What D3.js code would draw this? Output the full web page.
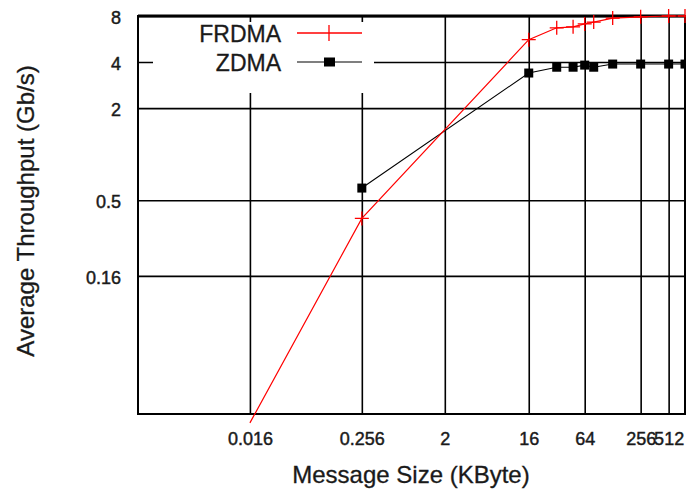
<!DOCTYPE html>
<html>
<head>
<meta charset="utf-8">
<script src="https://cdn.jsdelivr.net/npm/d3@7"></script>
<style>
  body { margin: 0; background: #fff; }
  svg { display: block; font-family: "Liberation Sans", Arial, Helvetica, sans-serif; }
  .tick text { fill: #1a1a1a; stroke: #1a1a1a; stroke-width: 0.45; }
  .title { stroke: #1a1a1a; stroke-width: 0.3; }
</style>
</head>
<body>
<div id="chart"></div>
<script>
// message sizes (KByte)
const sizes = [0.016, 0.256, 16, 32, 48, 64, 80, 128, 256, 512, 768];
// throughput (Gb/s)
const frdma = [0.0175, 0.38, 5.6, 6.7, 6.8, 7.1, 7.3, 7.75, 7.9, 8.0, 8.0];
const zdmaSizes = [0.256, 16, 32, 48, 64, 80, 128, 256, 512, 768];
const zdma = [0.6, 3.39, 3.7, 3.7, 3.82, 3.7, 3.88, 3.88, 3.88, 3.88];

const xTicks = [0.016, 0.256, 2, 16, 64, 256, 512];
const xTickLabels = ["0.016", "0.256", "2", "16", "64", "256", "512"];
const yTicks = [8, 4, 2, 0.5, 0.16];
const yTickLabels = ["8", "4", "2", "0.5", "0.16"];

const svgWidth = 686;
const svgHeight = 491;
const margin = { top: 16, right: 1, bottom: 77, left: 138 };
const width = svgWidth - margin.left - margin.right;
const height = svgHeight - margin.top - margin.bottom;

const svg = d3.select("#chart")
    .append("svg")
    .attr("width", svgWidth)
    .attr("height", svgHeight);

const chart = svg.append("g")
    .attr("transform", `translate(${margin.left},${margin.top})`);

const x = d3.scaleLog()
    .domain([0.001, 768])
    .range([0, width]);

const y = d3.scaleLog()
    .domain([0.02, 8])
    .range([height, 0]);

// grid lines
chart.append("g")
    .attr("class", "grid")
    .attr("transform", `translate(0, ${height})`)
    .call(d3.axisBottom(x).tickValues(xTicks).tickSize(-height).tickFormat(""))
    .call(g => g.select(".domain").remove())
    .call(g => g.selectAll("line").attr("stroke", "#000").attr("stroke-width", 1.6));

chart.append("g")
    .attr("class", "grid")
    .call(d3.axisLeft(y).tickValues(yTicks).tickSize(-width).tickFormat(""))
    .call(g => g.select(".domain").remove())
    .call(g => g.selectAll("line").attr("stroke", "#000").attr("stroke-width", 1.6));

// key background covers the grid
chart.append("rect")
    .attr("x", 15)
    .attr("y", 6)
    .attr("width", 221)
    .attr("height", 71)
    .attr("fill", "#fff");

// tick labels
chart.append("g")
    .attr("transform", `translate(0, ${height})`)
    .call(d3.axisBottom(x).tickValues(xTicks).tickSize(0).tickPadding(18)
        .tickFormat((d, i) => xTickLabels[i]))
    .call(g => g.select(".domain").remove())
    .call(g => g.selectAll("text").attr("font-size", 18).attr("font-family", null));

chart.append("g")
    .call(d3.axisLeft(y).tickValues(yTicks).tickSize(0).tickPadding(17)
        .tickFormat((d, i) => yTickLabels[i]))
    .call(g => g.select(".domain").remove())
    .call(g => g.selectAll("text").attr("font-size", 18).attr("font-family", null).attr("dy", "0.4em"));

// border
chart.append("rect")
    .attr("width", width)
    .attr("height", height)
    .attr("fill", "none")
    .attr("stroke", "#000")
    .attr("stroke-width", 2);
chart.append("line")
    .attr("x1", 0).attr("x2", width)
    .attr("y1", 0).attr("y2", 0)
    .attr("stroke", "#000")
    .attr("stroke-width", 3);

// series
const frdmaData = sizes.map((s, i) => ({ size: s, value: frdma[i] }));
const zdmaData = zdmaSizes.map((s, i) => ({ size: s, value: zdma[i] }));

const line = d3.line()
    .x(d => x(d.size))
    .y(d => y(d.value));

chart.append("path")
    .datum(zdmaData)
    .attr("fill", "none")
    .attr("stroke", "#000")
    .attr("stroke-width", 1.1)
    .attr("d", line);

chart.append("path")
    .datum(frdmaData)
    .attr("fill", "none")
    .attr("stroke", "#ff0000")
    .attr("stroke-width", 1.2)
    .attr("d", line);

chart.append("g").selectAll("rect")
    .data(zdmaData)
    .join("rect")
    .attr("x", d => x(d.size) - 4.5)
    .attr("y", d => y(d.value) - 4.5)
    .attr("width", 9)
    .attr("height", 9)
    .attr("fill", "#000");

const plus = "M-7,0H7M0,-7V7";
chart.append("g").selectAll("path")
    .data(frdmaData.filter(d => d.value >= 0.02))
    .join("path")
    .attr("transform", d => `translate(${x(d.size)},${y(d.value)})`)
    .attr("d", plus)
    .attr("stroke", "#ff0000")
    .attr("stroke-width", 1.3);

// key
const key = chart.append("g");
key.append("text")
    .attr("class", "title")
    .attr("x", 143).attr("y", 26)
    .attr("text-anchor", "end")
    .attr("font-size", 23)
    .attr("fill", "#1a1a1a")
    .text("FRDMA");
key.append("text")
    .attr("class", "title")
    .attr("x", 143).attr("y", 55)
    .attr("text-anchor", "end")
    .attr("font-size", 23)
    .attr("fill", "#1a1a1a")
    .text("ZDMA");
key.append("line")
    .attr("x1", 159).attr("x2", 224).attr("y1", 17).attr("y2", 17)
    .attr("stroke", "#ff0000").attr("stroke-width", 1.3);
key.append("path")
    .attr("transform", "translate(191,17)")
    .attr("d", "M0,-8V8")
    .attr("stroke", "#ff0000").attr("stroke-width", 1.3);
key.append("line")
    .attr("x1", 159).attr("x2", 224).attr("y1", 46).attr("y2", 46)
    .attr("stroke", "#000").attr("stroke-width", 1.1);
key.append("rect")
    .attr("x", 186).attr("y", 41.5).attr("width", 11).attr("height", 9)
    .attr("fill", "#000");

// axis titles
svg.append("text")
    .attr("class", "title")
    .attr("x", 411)
    .attr("y", 483)
    .attr("text-anchor", "middle")
    .attr("font-size", 24)
    .attr("fill", "#1a1a1a")
    .text("Message Size (KByte)");

svg.append("text")
    .attr("class", "title")
    .attr("transform", "translate(34, 211) rotate(-90)")
    .attr("text-anchor", "middle")
    .attr("font-size", 24)
    .attr("fill", "#1a1a1a")
    .text("Average Throughput (Gb/s)");
</script>
</body>
</html>
